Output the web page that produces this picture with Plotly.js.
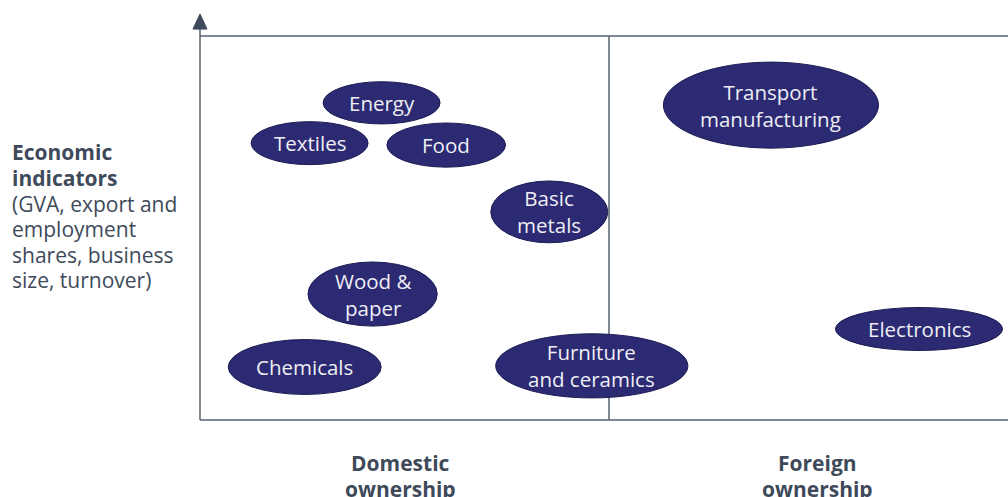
<!DOCTYPE html>
<html>
<head>
<meta charset="utf-8">
<script src="https://cdn.plot.ly/plotly-3.0.1.min.js"></script>
<style>html,body{margin:0;padding:0;background:#fff;}#chart{width:1008px;height:497px;}</style>
</head>
<body>
<div id="chart"></div>
<script>
// Sectors: ownership position (negative = domestic, positive = foreign) and economic indicators score (0-100)
var sectors = ["Energy", "Textiles", "Food", "Basic<br>metals", "Transport<br>manufacturing", "Wood &amp;<br>paper", "Chemicals", "Furniture<br>and ceramics", "Electronics"];
var ownership = [-27.8, -36.6, -19.9, -7.3, 19.8, -28.9, -37.2, -2.1, 37.9];
var economic = [82.6, 72.1, 71.6, 54.2, 82.0, 32.8, 13.8, 14.1, 23.7];
// ellipse extents (in axis units)
var ellW = [14.3, 14.3, 14.5, 14.3, 26.3, 15.8, 18.7, 23.5, 20.4];
var ellH = [11.0, 11.2, 11.5, 16.1, 22.4, 16.7, 14.3, 16.7, 11.2];
var groupLabels = ["Domestic", "Foreign"];
var groupSub = ["ownership", "ownership"];
var groupX = [-25.5, 25.5];
var yLabelLines = ["Economic", "indicators", "(GVA, export and", "employment", "shares, business", "size, turnover)"];
var yLabelBold = [true, true, false, false, false, false];

var axisColor = "#56606d";
var textColor = "#3e4a5a";
var fillColor = "#2b2a72";

var xr = [-50, 48.78];
var H = 384; // plot height in px for paper conversions
var shapes = [];
// frame
shapes.push({type:"line", xref:"paper", yref:"paper", x0:0, x1:1, y0:1, y1:1, line:{color:axisColor, width:1.5}});
shapes.push({type:"line", xref:"paper", yref:"paper", x0:0, x1:1, y0:0, y1:0, line:{color:axisColor, width:1.5}});
shapes.push({type:"line", xref:"paper", yref:"paper", x0:0, x1:0, y0:0, y1:1.02, line:{color:axisColor, width:1.5}});
shapes.push({type:"line", xref:"x", yref:"paper", x0:0, x1:0, y0:0, y1:1, line:{color:axisColor, width:1.5}});
// arrow head
shapes.push({type:"path", xref:"paper", yref:"paper", path:"M -0.0087 1.018 L 0.0087 1.018 L 0 1.0573 Z", fillcolor:"#3e4a5a", line:{color:"#3e4a5a", width:1}});

var annotations = [];
for (var i = 0; i < sectors.length; i++) {
  shapes.push({type:"circle", xref:"x", yref:"y",
    x0: ownership[i] - ellW[i]/2, x1: ownership[i] + ellW[i]/2,
    y0: economic[i] - ellH[i]/2, y1: economic[i] + ellH[i]/2,
    fillcolor: fillColor, line:{color:"#1c1b52", width:1}});
  annotations.push({x: ownership[i], y: economic[i], xref:"x", yref:"y", text: sectors[i],
    showarrow:false, font:{family:"Open Sans", size:20.5, color:"#eeeef4"}, align:"center"});
}
for (var j = 0; j < groupLabels.length; j++) {
  annotations.push({x: groupX[j], y: (420-463)/H, xref:"x", yref:"paper", yanchor:"middle", text: "<b>"+groupLabels[j]+"</b>",
    showarrow:false, font:{family:"Open Sans", size:21, color:textColor}, align:"center"});
  annotations.push({x: groupX[j], y: (420-489)/H, xref:"x", yref:"paper", yanchor:"middle", text: "<b>"+groupSub[j]+"</b>",
    showarrow:false, font:{family:"Open Sans", size:21, color:textColor}, align:"center"});
}
var lineY = [152, 178, 203.5, 229, 254.5, 280];
for (var k = 0; k < yLabelLines.length; k++) {
  annotations.push({x: (10-200)/808, y: (420-lineY[k])/H, xref:"paper", yref:"paper", xanchor:"left", yanchor:"middle",
    text: yLabelBold[k] ? "<b>"+yLabelLines[k]+"</b>" : yLabelLines[k], showarrow:false, align:"left",
    font:{family:"Open Sans", size: yLabelBold[k] ? 21 : 21, color:textColor}});
}

var layout = {
  width:1008, height:497,
  margin:{l:200, r:0, t:36, b:77},
  paper_bgcolor:"#ffffff", plot_bgcolor:"#ffffff",
  xaxis:{range:xr, visible:false, fixedrange:true},
  yaxis:{range:[0,100], visible:false, fixedrange:true},
  shapes: shapes, annotations: annotations, showlegend:false
};
Plotly.newPlot("chart", [{x:[], y:[], type:"scatter"}], layout, {displayModeBar:false, staticPlot:true});
</script>
</body>
</html>
